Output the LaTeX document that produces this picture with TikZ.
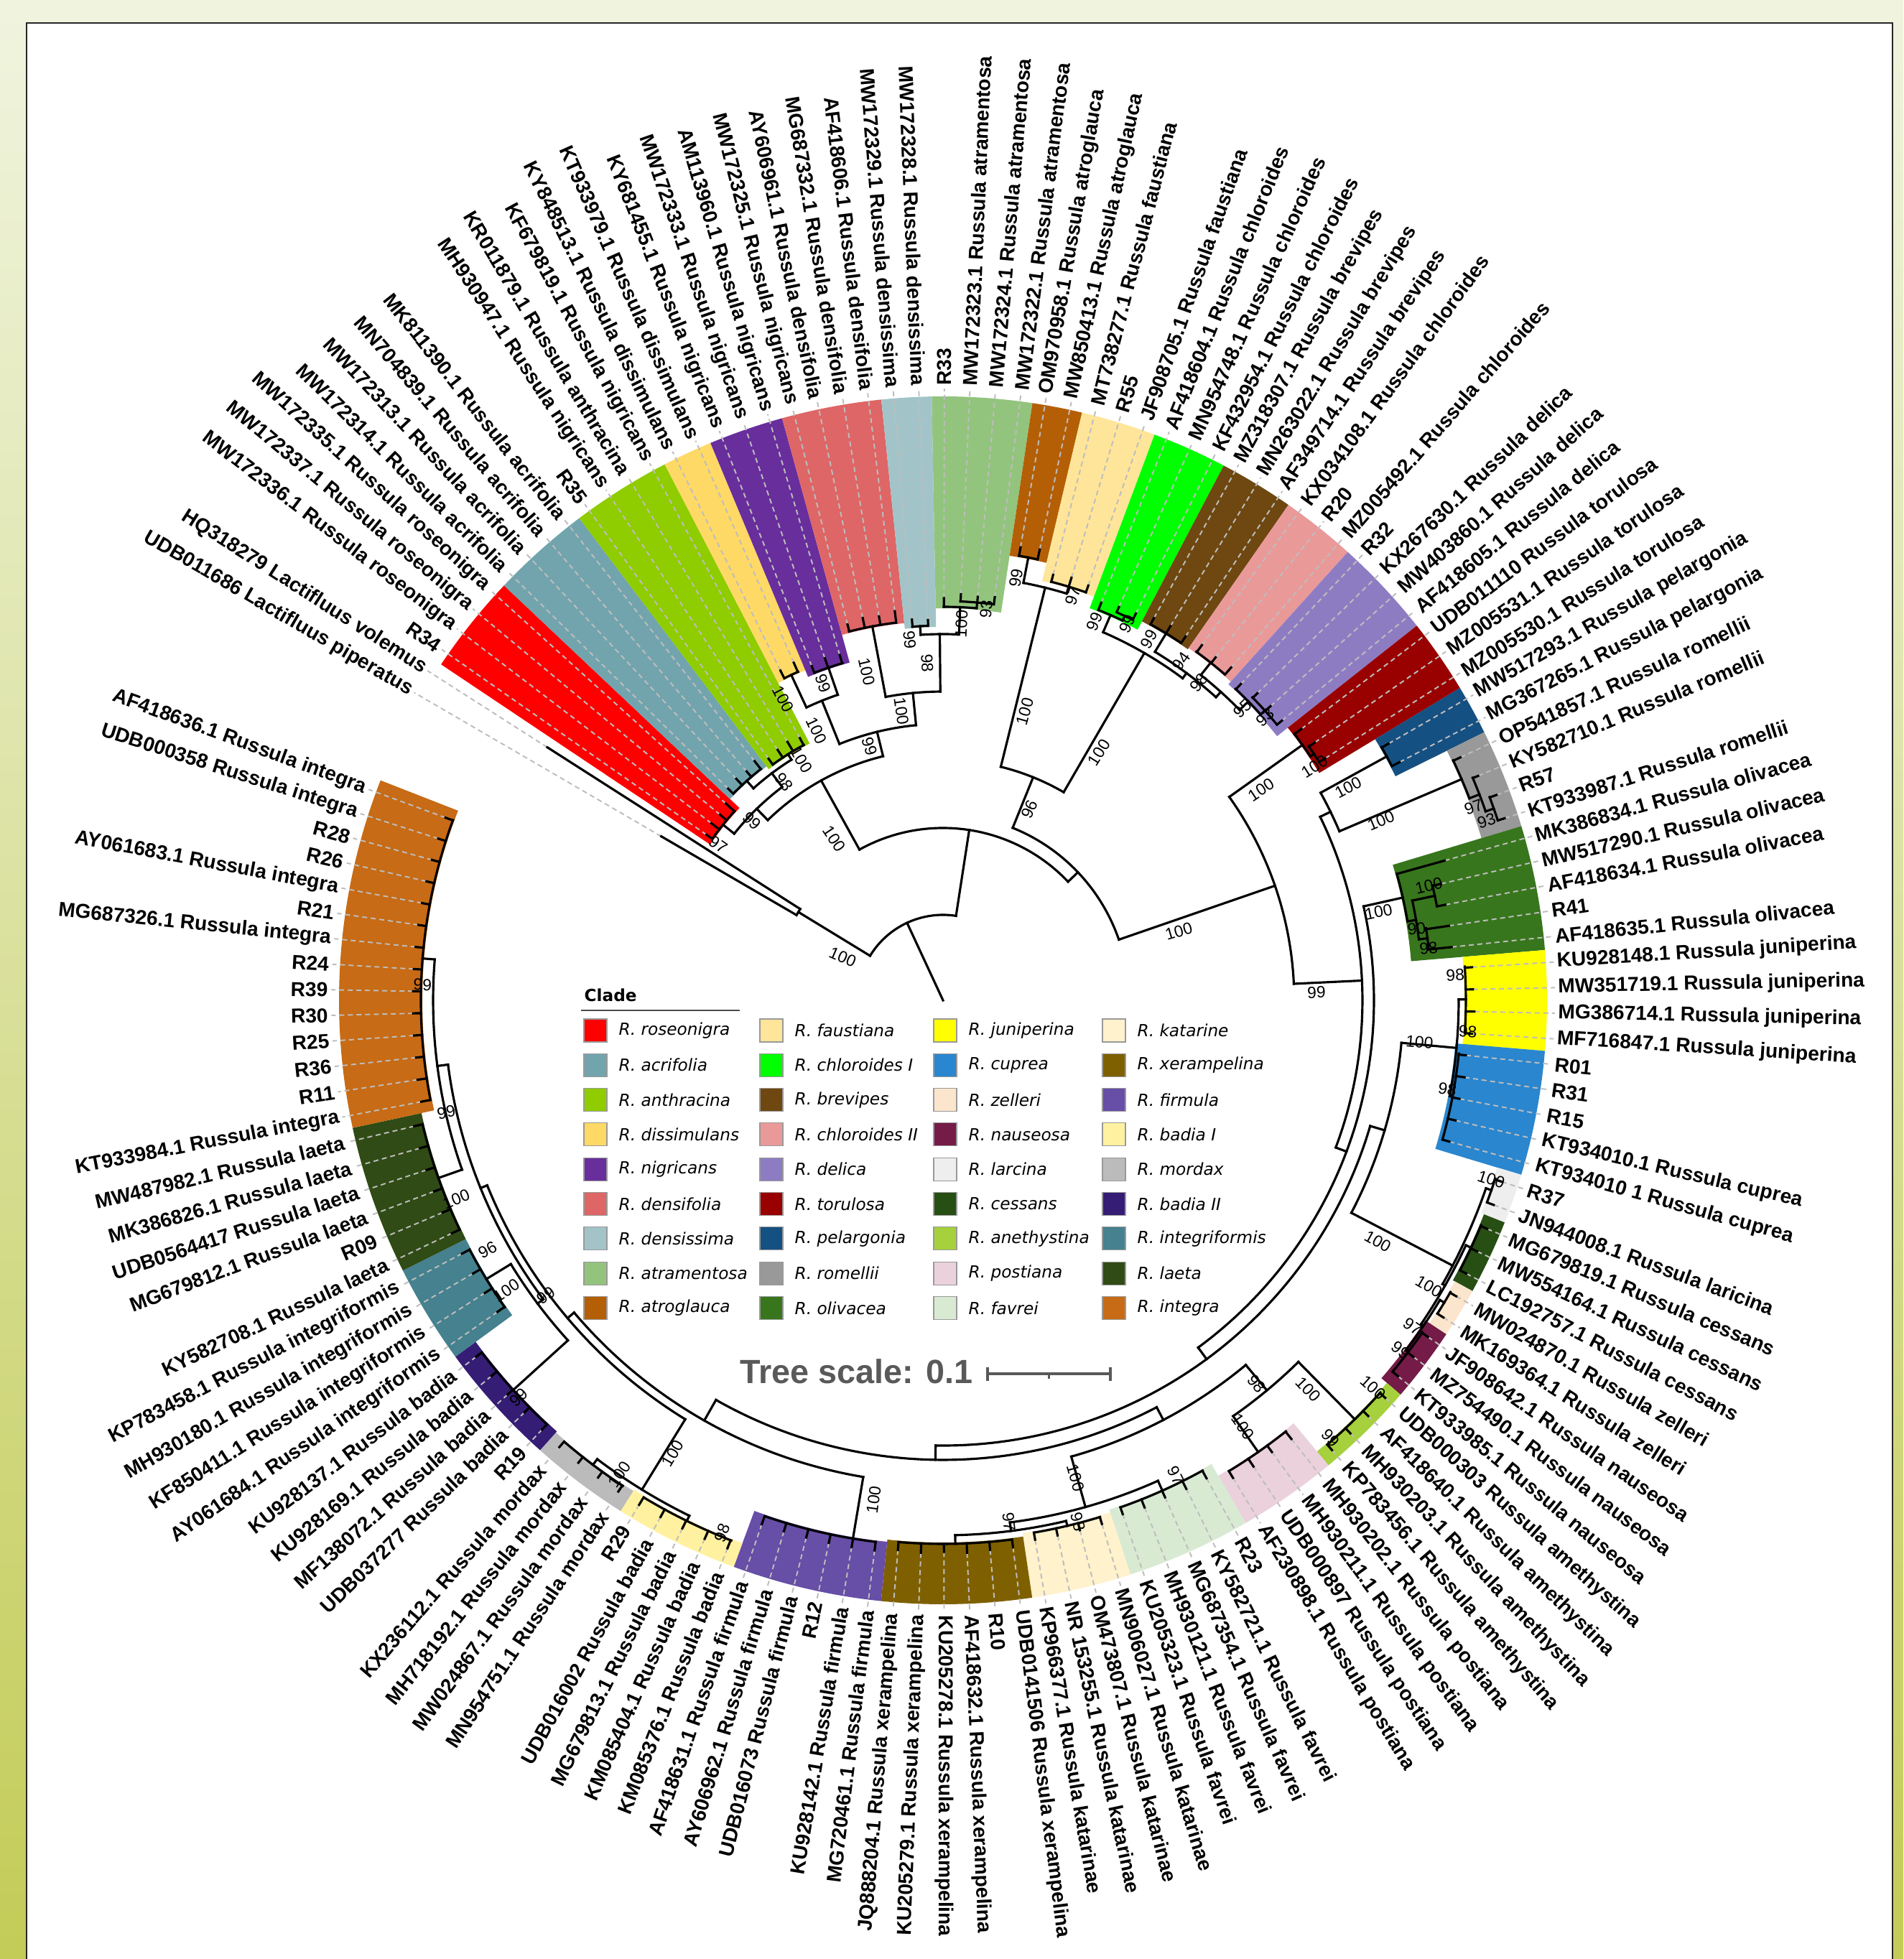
\documentclass[tikz,border=0pt]{standalone}
\usepackage{fontspec}
\usetikzlibrary{calc}
\setmainfont{Liberation Sans}
\newfontfamily\legfont{DejaVu Sans}
\definecolor{bgTop}{HTML}{F0F4DF}
\definecolor{bgBot}{HTML}{C3CC57}
\definecolor{dashc}{HTML}{BDBDBD}
\definecolor{scalec}{HTML}{595959}
\definecolor{cRos}{HTML}{FF0000}
\definecolor{cAcr}{HTML}{72A4AE}
\definecolor{cAnt}{HTML}{8FCC00}
\definecolor{cDis}{HTML}{FFD966}
\definecolor{cNig}{HTML}{682E9C}
\definecolor{cDfo}{HTML}{DE6666}
\definecolor{cDsi}{HTML}{A2C4C9}
\definecolor{cAtr}{HTML}{93C47D}
\definecolor{cAtg}{HTML}{B45F06}
\definecolor{cFau}{HTML}{FFE599}
\definecolor{cChI}{HTML}{00FF00}
\definecolor{cBre}{HTML}{6E4810}
\definecolor{cChII}{HTML}{EA9999}
\definecolor{cDel}{HTML}{8E7CC3}
\definecolor{cTor}{HTML}{990000}
\definecolor{cPel}{HTML}{155082}
\definecolor{cRom}{HTML}{999999}
\definecolor{cOli}{HTML}{38761D}
\definecolor{cJun}{HTML}{FFFF00}
\definecolor{cCup}{HTML}{2A86CE}
\definecolor{cZel}{HTML}{FCE5CD}
\definecolor{cNau}{HTML}{741B47}
\definecolor{cLar}{HTML}{EEEEEE}
\definecolor{cCes}{HTML}{274E13}
\definecolor{cAne}{HTML}{A6D03C}
\definecolor{cPos}{HTML}{EAD1DC}
\definecolor{cFav}{HTML}{D9EAD3}
\definecolor{cKat}{HTML}{FFF2CC}
\definecolor{cXer}{HTML}{7F6000}
\definecolor{cFir}{HTML}{674EA7}
\definecolor{cBI}{HTML}{FFF1A0}
\definecolor{cMor}{HTML}{BBBBBB}
\definecolor{cBII}{HTML}{351C75}
\definecolor{cIgf}{HTML}{45818E}
\definecolor{cLae}{HTML}{304B15}
\definecolor{cInt}{HTML}{C76B16}
\newcommand\TRad[3]{\draw[br] (#1:#2) -- (#1:#3);}
\newcommand\TArc[3]{\draw[br] (#2:#1) arc[start angle=#2,end angle=#3,radius=#1];}
\newcommand\Band[4]{%
  \pgfmathsetmacro\bsa{149.8-(#1-1)*2.397+1.1985}%
  \pgfmathsetmacro\bea{149.8-(#2-1)*2.397-1.1985}%
  \fill[#4] (\bsa:#3) arc[start angle=\bsa,end angle=\bea,radius=#3] -- (\bea:8.41) arc[start angle=\bea,end angle=\bsa,radius=8.41] -- cycle;}
\newcommand\BS[3]{%
  \pgfmathsetmacro\bsrot{cos(#1)>=0 ? #1 : #1+180}%
  \node[bs,rotate=\bsrot] at (#1:#2) {#3};}
\begin{document}
\begin{tikzpicture}[
  br/.style={line width=0.9pt, line cap=rect},
  dl/.style={line width=0.55pt, dash pattern=on 0.07cm off 0.05cm, color=dashc},
  lab/.style={font=\fontsize{8}{9}\selectfont\bfseries, inner sep=0pt},
  bs/.style={font=\fontsize{6.5}{7.5}\selectfont, inner sep=0pt},
  leg/.style={font=\legfont\itshape\fontsize{6.6}{7.8}\selectfont, anchor=west, inner sep=0pt},
  sw/.style={draw=black!40, line width=0.3pt}
]
\useasboundingbox (-13.13,-13.35) rectangle (13.37,13.93);
\shade[top color=bgTop, bottom color=bgBot] (-13.13,-13.35) rectangle (13.37,13.93);
\draw[fill=white, draw=black!85, line width=0.6pt] (-12.76,-13.6) rectangle (13.22,13.61);

% clade bands
\Band{3}{6}{3.90}{cRos}
\Band{7}{10}{4.08}{cAcr}
\Band{11}{14}{4.03}{cAnt}
\Band{15}{16}{4.98}{cDis}
\Band{17}{19}{4.88}{cNig}
\Band{20}{23}{5.28}{cDfo}
\Band{24}{25}{5.20}{cDsi}
\Band{26}{29}{5.46}{cAtr}
\Band{30}{31}{6.26}{cAtg}
\Band{32}{34}{6.00}{cFau}
\Band{35}{37}{5.83}{cChI}
\Band{38}{40}{5.96}{cBre}
\Band{41}{43}{5.98}{cChII}
\Band{44}{47}{5.93}{cDel}
\Band{48}{50}{6.12}{cTor}
\Band{51}{52}{7.03}{cPel}
\Band{53}{56}{7.83}{cRom}
\Band{57}{61}{6.54}{cOli}
\Band{62}{65}{7.26}{cJun}
\Band{66}{70}{7.16}{cCup}
\Band{71}{72}{8.06}{cLar}
\Band{73}{75}{8.10}{cCes}
\Band{76}{77}{8.13}{cZel}
\Band{78}{80}{8.06}{cNau}
\Band{81}{84}{8.16}{cAne}
\Band{85}{88}{7.65}{cPos}
\Band{89}{93}{7.46}{cFav}
\Band{94}{97}{7.50}{cKat}
\Band{98}{103}{7.55}{cXer}
\Band{104}{109}{7.58}{cFir}
\Band{110}{114}{8.06}{cBI}
\Band{115}{118}{8.08}{cMor}
\Band{119}{123}{8.06}{cBII}
\Band{124}{127}{7.43}{cIgf}
\Band{128}{133}{7.43}{cLae}
\Band{134}{147}{7.25}{cInt}

% leaves
\foreach \ix/\pa/\tp/\lbl in {
1/2.36/4.54/UDB011686 Lactifluus piperatus,
2/2.36/6.54/HQ318279 Lactifluus volemus,
3/3.92/4.02/R34,
4/3.92/4.06/MW172336.1 Russula roseonigra,
5/3.92/4.04/MW172337.1 Russula roseonigra,
6/3.92/4.08/MW172335.1 Russula roseonigra,
7/4.10/4.20/MW172314.1 Russula acrifolia,
8/4.10/4.22/MW172313.1 Russula acrifolia,
9/4.10/4.20/MN704839.1 Russula acrifolia,
10/4.10/4.24/MK811390.1 Russula acrifolia,
11/4.05/4.15/R35,
12/4.05/4.18/MH930947.1 Russula nigricans,
13/4.05/4.20/KR011879.1 Russula anthracina,
14/4.05/4.16/KF679819.1 Russula nigricans,
15/5.00/5.12/KY848513.1 Russula dissimulans,
16/5.00/5.14/KT933979.1 Russula dissimulans,
17/4.90/5.00/KY681455.1 Russula nigricans,
18/4.90/5.04/MW172333.1 Russula nigricans,
19/4.90/5.02/AM113960.1 Russula nigricans,
20/5.30/5.40/MW172325.1 Russula nigricans,
21/5.30/5.44/AY606961.1 Russula densifolia,
22/5.30/5.42/MG687332.1 Russula densifolia,
23/5.30/5.46/AF418606.1 Russula densifolia,
24/5.22/5.32/MW172329.1 Russula densissima,
25/5.22/5.30/MW172328.1 Russula densissima,
26/5.48/5.60/R33,
27/5.56/5.66/MW172323.1 Russula atramentosa,
28/5.56/5.64/MW172324.1 Russula atramentosa,
29/5.56/5.66/MW172322.1 Russula atramentosa,
30/6.28/6.40/OM970958.1 Russula atroglauca,
31/6.28/6.42/MW850413.1 Russula atroglauca,
32/6.02/6.12/MT738277.1 Russula faustiana,
33/6.02/6.15/R55,
34/6.02/6.12/JF908705.1 Russula faustiana,
35/5.85/5.96/AF418604.1 Russula chloroides,
36/5.92/6.00/MN954748.1 Russula chloroides,
37/5.92/6.02/KF432954.1 Russula chloroides,
38/5.98/6.08/MZ318307.1 Russula brevipes,
39/5.98/6.10/MN263022.1 Russula brevipes,
40/5.98/6.09/AF349714.1 Russula brevipes,
41/6.00/6.12/KX034108.1 Russula chloroides,
42/6.00/6.10/R20,
43/6.00/6.13/MZ005492.1 Russula chloroides,
44/5.95/6.05/R32,
45/6.03/6.12/KX267630.1 Russula delica,
46/6.03/6.13/MW403860.1 Russula delica,
47/6.03/6.12/AF418605.1 Russula delica,
48/6.14/6.26/UDB011110 Russula torulosa,
49/6.20/6.30/MZ005531.1 Russula torulosa,
50/6.20/6.30/MZ005530.1 Russula torulosa,
51/7.05/7.16/MW517293.1 Russula pelargonia,
52/7.05/7.17/MG367265.1 Russula pelargonia,
53/7.85/7.96/OP541857.1 Russula romellii,
54/8.00/8.08/KY582710.1 Russula romellii,
55/8.12/8.22/R57,
56/8.12/8.22/KT933987.1 Russula romellii,
57/6.56/7.25/MK386834.1 Russula olivacea,
58/7.00/7.12/MW517290.1 Russula olivacea,
59/7.00/7.12/AF418634.1 Russula olivacea,
60/6.80/7.12/R41,
61/6.80/7.12/AF418635.1 Russula olivacea,
62/7.28/7.38/KU928148.1 Russula juniperina,
63/7.28/7.38/MW351719.1 Russula juniperina,
64/7.28/7.40/MG386714.1 Russula juniperina,
65/7.28/7.38/MF716847.1 Russula juniperina,
66/7.22/7.32/R01,
67/7.22/7.34/R31,
68/7.22/7.32/R15,
69/7.22/7.33/KT934010.1 Russula cuprea,
70/7.22/7.32/KT934010 1 Russula cuprea,
71/8.08/8.18/R37,
72/8.08/8.18/JN944008.1 Russula laricina,
73/8.12/8.22/MG679819.1 Russula cessans,
74/8.12/8.22/MW554164.1 Russula cessans,
75/8.12/8.22/LC192757.1 Russula cessans,
76/8.15/8.25/MW024870.1 Russula zelleri,
77/8.15/8.25/MK169364.1 Russula zelleri,
78/8.12/8.22/JF908642.1 Russula nauseosa,
79/8.12/8.22/MZ754490.1 Russula nauseosa,
80/8.12/8.22/KT933985.1 Russula nauseosa,
81/8.18/8.28/UDB000303 Russula amethystina,
82/8.18/8.28/AF418640.1 Russula amethystina,
83/8.18/8.28/MH930203.1 Russula amethystina,
84/8.18/8.28/KP783456.1 Russula amethystina,
85/7.67/7.80/MH930202.1 Russula postiana,
86/7.67/7.78/MH930211.1 Russula postiana,
87/7.67/7.80/UDB000897 Russula postiana,
88/7.67/7.78/AF230898.1 Russula postiana,
89/7.48/7.60/R23,
90/7.48/7.60/KY582721.1 Russula favrei,
91/7.48/7.58/MG687354.1 Russula favrei,
92/7.48/7.60/MH930121.1 Russula favrei,
93/7.48/7.58/KU205323.1 Russula favrei,
94/7.52/7.62/MN906027.1 Russula katarinae,
95/7.52/7.62/OM473807.1 Russula katarinae,
96/7.52/7.62/NR 153255.1 Russula katarinae,
97/7.52/7.62/KP966377.1 Russula katarinae,
98/7.57/7.68/UDB0141506 Russula xerampelina,
99/7.57/7.68/R10,
100/7.57/7.70/AF418632.1 Russula xerampelina,
101/7.57/7.68/KU205278.1 Russula xerampelina,
102/7.57/7.70/KU205279.1 Russula xerampelina,
103/7.57/7.68/JQ888204.1 Russula xerampelina,
104/7.60/7.72/MG720461.1 Russula firmula,
105/7.60/7.72/KU928142.1 Russula firmula,
106/7.60/7.72/R12,
107/7.60/7.72/UDB016073 Russula firmula,
108/7.60/7.72/AY606962.1 Russula firmula,
109/7.60/7.72/AF418631.1 Russula firmula,
110/8.08/8.20/KM085376.1 Russula badia,
111/8.08/8.20/KM085404.1 Russula badia,
112/8.08/8.20/MG679813.1 Russula badia,
113/8.08/8.20/UDB016002 Russula badia,
114/8.08/8.20/R29,
115/8.10/8.20/MN954751.1 Russula mordax,
116/8.10/8.20/MW024867.1 Russula mordax,
117/8.10/8.20/MH718192.1 Russula mordax,
118/8.10/8.20/KX236112.1 Russula mordax,
119/8.08/8.18/R19,
120/8.08/8.18/UDB037277 Russula badia,
121/8.08/8.18/MF138072.1 Russula badia,
122/8.08/8.18/KU928169.1 Russula badia,
123/8.08/8.18/KU928137.1 Russula badia,
124/7.45/7.57/AY061684.1 Russula integriformis,
125/7.45/7.57/KF850411.1 Russula integriformis,
126/7.45/7.57/MH930180.1 Russula integriformis,
127/7.45/7.57/KP783458.1 Russula integriformis,
128/7.45/7.57/KY582708.1 Russula laeta,
129/7.45/7.57/R09,
130/7.45/7.57/MG679812.1 Russula laeta,
131/7.45/7.57/UDB0564417 Russula laeta,
132/7.45/7.57/MK386826.1 Russula laeta,
133/7.45/7.57/MW487982.1 Russula laeta,
134/7.27/7.40/KT933984.1 Russula integra,
135/7.27/7.40/R11,
136/7.27/7.38/R36,
137/7.27/7.38/R25,
138/7.27/7.38/R30,
139/7.27/7.38/R39,
140/7.27/7.38/R24,
141/7.27/7.38/MG687326.1 Russula integra,
142/7.27/7.38/R21,
143/7.27/7.38/AY061683.1 Russula integra,
144/7.27/7.38/R26,
145/7.27/7.38/R28,
146/7.27/7.38/UDB000358 Russula integra,
147/7.27/7.38/AF418636.1 Russula integra}{
  \pgfmathsetmacro\ang{149.8-(\ix-1)*2.397}
  \draw[dl] (\ang:\tp) -- (\ang:8.52);
  \draw[br] (\ang:\pa) -- (\ang:\tp);
  \pgfmathtruncatemacro\rgt{cos(\ang)>=0}
  \ifnum\rgt=1
    \node[lab,anchor=west,rotate=\ang] (L\ix) at (\ang:8.56) {\lbl};
  \else
    \pgfmathsetmacro\rr{\ang+180}
    \node[lab,anchor=east,rotate=\rr] (L\ix) at (\ang:8.56) {\lbl};
  \fi
}

% root and outgroup
\TRad{114.9}{0}{1.19}
\TArc{1.19}{148.6}{81.25}
\TRad{148.6}{1.19}{2.36}
\TArc{2.36}{149.8}{147.4}
\TRad{81.25}{1.19}{2.40}
\TArc{2.40}{119.0}{43.5}
% clade A
\TRad{119.0}{2.40}{3.50}
\TArc{3.50}{134.2}{103.8}
\TRad{134.2}{3.50}{3.72}
\TArc{3.72}{141.4}{127.0}
\TRad{141.4}{3.72}{3.92}
\TArc{3.92}{145.0}{137.8}
\TRad{127.0}{3.72}{3.96}
\TArc{3.96}{131.8}{122.2}
\TRad{131.8}{3.96}{4.10}
\TArc{4.10}{135.4}{128.2}
\TRad{122.2}{3.96}{4.05}
\TArc{4.05}{125.8}{118.6}
\TRad{103.8}{3.50}{3.85}
\TArc{3.85}{112.0}{95.6}
\TRad{112.0}{3.85}{4.50}
\TArc{4.50}{115.0}{109.0}
\TRad{115.0}{4.50}{5.00}
\TArc{5.00}{116.2}{113.8}
\TRad{109.0}{4.50}{4.90}
\TArc{4.90}{111.4}{106.6}
\TRad{95.6}{3.85}{4.30}
\TArc{4.30}{100.7}{90.5}
\TRad{100.7}{4.30}{5.30}
\TArc{5.30}{104.3}{97.1}
\TRad{90.5}{4.30}{5.10}
\TArc{5.10}{93.5}{87.5}
\TRad{93.5}{5.10}{5.22}
\TArc{5.22}{94.7}{92.3}
\TRad{87.5}{5.10}{5.48}
\TArc{5.48}{89.9}{85.1}
\TRad{85.1}{5.48}{5.56}
\TArc{5.56}{87.5}{82.7}
% clade B
\TRad{43.5}{2.40}{2.59}
\TArc{2.59}{68.0}{19.05}
\TRad{68.0}{2.59}{3.35}
\TArc{3.35}{76.1}{59.9}
\TRad{76.1}{3.35}{5.92}
\TArc{5.92}{79.1}{73.1}
\TRad{79.1}{5.92}{6.28}
\TArc{6.28}{80.3}{77.9}
\TRad{73.1}{5.92}{6.02}
\TArc{6.02}{75.5}{70.7}
\TRad{59.9}{3.35}{5.59}
\TArc{5.59}{66.5}{53.35}
\TRad{66.5}{5.59}{5.85}
\TArc{5.85}{68.3}{64.7}
\TRad{64.7}{5.85}{5.92}
\TArc{5.92}{65.9}{63.5}
\TRad{53.35}{5.59}{5.68}
\TArc{5.68}{58.7}{48.0}
\TRad{58.7}{5.68}{5.98}
\TArc{5.98}{61.1}{56.4}
\TRad{48.0}{5.68}{5.78}
\TArc{5.78}{51.6}{44.4}
\TRad{51.6}{5.78}{6.00}
\TArc{6.00}{54.0}{49.2}
\TRad{44.4}{5.78}{5.95}
\TArc{5.95}{46.8}{42.0}
\TRad{42.0}{5.95}{6.03}
\TArc{6.03}{44.4}{39.6}
% clade C
\TRad{19.05}{2.59}{4.89}
\TArc{4.89}{35.4}{2.7}
\TRad{35.4}{4.89}{6.14}
\TArc{6.14}{37.2}{33.6}
\TRad{33.6}{6.14}{6.20}
\TArc{6.20}{34.8}{32.4}
\TRad{2.7}{4.89}{5.84}
\TArc{5.84}{25.95}{-20.55}
\TRad{25.95}{5.84}{6.00}
\TArc{6.00}{28.8}{23.1}
\TRad{28.8}{6.00}{7.05}
\TArc{7.05}{30.0}{27.6}
\TRad{23.1}{6.00}{7.85}
\TArc{7.85}{25.2}{21.0}
\TRad{21.0}{7.85}{8.00}
\TArc{8.00}{22.8}{19.2}
\TRad{19.2}{8.00}{8.12}
\TArc{8.12}{20.4}{18.0}
\TRad{-20.55}{5.84}{6.00}
\TArc{6.00}{12.6}{-53.7}
\TRad{12.6}{6.00}{6.56}
\TArc{6.56}{15.6}{9.65}
\TRad{9.65}{6.56}{6.68}
\TArc{6.68}{12.0}{7.3}
\TRad{12.0}{6.68}{7.00}
\TArc{7.00}{13.2}{10.8}
\TRad{7.3}{6.68}{6.80}
\TArc{6.80}{8.5}{6.1}
\TRad{-53.7}{6.00}{6.20}
\TArc{6.20}{-16.4}{-90.95}
\TRad{-16.4}{6.20}{6.41}
\TArc{6.41}{-5.3}{-27.5}
\TRad{-5.3}{6.41}{7.18}
\TArc{7.18}{0.1}{-10.7}
\TRad{0.1}{7.18}{7.28}
\TArc{7.28}{3.7}{-3.5}
\TRad{-10.7}{7.18}{7.22}
\TArc{7.22}{-5.9}{-15.5}
\TRad{-27.5}{6.41}{8.00}
\TArc{8.00}{-19.1}{-29.6}
\TRad{-19.1}{8.00}{8.08}
\TArc{8.08}{-17.9}{-20.3}
\TRad{-29.6}{8.00}{8.04}
\TArc{8.04}{-25.1}{-34.1}
\TRad{-25.1}{8.04}{8.12}
\TArc{8.12}{-22.7}{-27.5}
\TRad{-34.1}{8.04}{8.08}
\TArc{8.08}{-31.1}{-37.1}
\TRad{-31.1}{8.08}{8.15}
\TArc{8.15}{-29.9}{-32.3}
\TRad{-37.1}{8.08}{8.12}
\TArc{8.12}{-34.7}{-39.5}
\TRad{-90.95}{6.20}{6.40}
\TArc{6.40}{-62.3}{-119.6}
\TRad{-62.3}{6.40}{6.60}
\TArc{6.60}{-50.3}{-74.3}
\TRad{-50.3}{6.60}{7.06}
\TArc{7.06}{-45.5}{-55.1}
\TRad{-45.5}{7.06}{8.18}
\TArc{8.18}{-41.9}{-49.1}
\TRad{-55.1}{7.06}{7.67}
\TArc{7.67}{-51.5}{-58.7}
\TRad{-74.3}{6.60}{7.33}
\TArc{7.33}{-65.9}{-82.7}
\TRad{-65.9}{7.33}{7.48}
\TArc{7.48}{-61.1}{-70.7}
\TRad{-82.7}{7.33}{7.45}
\TArc{7.45}{-76.7}{-88.7}
\TRad{-76.7}{7.45}{7.52}
\TArc{7.52}{-73.1}{-80.3}
\TRad{-88.7}{7.45}{7.57}
\TArc{7.57}{-82.7}{-94.7}
\TRad{-119.6}{6.40}{6.73}
\TArc{6.73}{-99.5}{-139.75}
\TRad{-99.5}{6.73}{7.60}
\TArc{7.60}{-97.1}{-109.0}
\TRad{-139.75}{6.73}{6.85}
\TArc{6.85}{-121.6}{-157.9}
\TRad{-121.6}{6.85}{8.00}
\TArc{8.00}{-116.2}{-127.0}
\TRad{-116.2}{8.00}{8.08}
\TArc{8.08}{-111.4}{-121.0}
\TRad{-127.0}{8.00}{8.10}
\TArc{8.10}{-123.4}{-130.6}
\TRad{-157.9}{6.85}{6.95}
\TArc{6.95}{-143.2}{-172.6}
\TRad{-143.2}{6.95}{7.05}
\TArc{7.05}{-137.8}{-148.6}
\TRad{-137.8}{7.05}{8.08}
\TArc{8.08}{-133.0}{-142.6}
\TRad{-148.6}{7.05}{7.45}
\TArc{7.45}{-145.0}{-152.2}
\TRad{-172.6}{6.95}{7.10}
\TArc{7.10}{-160.6}{-184.6}
\TRad{-160.6}{7.10}{7.45}
\TArc{7.45}{-154.6}{-166.6}
\TRad{-184.6}{7.10}{7.27}
\TArc{7.27}{-169.0}{-200.2}

% bootstrap values
\foreach \ba/\brr/\bt in {156.8/1.52/100, 123.9/2.71/100, 145.3/3.81/97, 136.8/3.65/99, 126.1/3.76/98,
 120.5/3.89/100, 117.9/4.75/100, 110.7/4.72/99, 115.1/4.15/100, 106.1/3.68/99, 103.1/4.70/100,
 98.2/4.07/100, 95.3/5.04/99, 92.7/4.70/98, 87.2/5.25/100, 83.7/5.48/93, 80.2/5.97/99, 72.2/5.91/97,
 74.2/4.18/100, 65.6/2.92/96, 57.8/4.08/100, 68.2/5.68/99, 63.9/5.84/99, 60.3/5.79/99, 54.9/5.77/94,
 51.1/5.68/98, 44.2/5.82/95, 41.3/5.97/93, 16.3/3.42/100, 33.5/5.31/100, 32.2/6.11/100, 1.2/5.20/99,
 27.7/6.37/100, 22.3/6.59/100, 20.0/7.86/97, 18.3/7.97/93, 11.5/6.19/100, 13.3/6.95/100, 8.6/6.67/90,
 6.1/6.80/98, 2.8/7.14/98, -3.4/7.32/98, -5.0/6.66/100, -10.0/7.13/98, -29.0/6.92/100, -18.1/8.03/100,
 -30.5/7.85/100, -34.8/7.96/97, -37.4/8.02/99, -42.0/8.06/100, -48.5/8.14/99, -50.7/6.90/98,
 -46.8/7.43/100, -54.9/7.26/100, -74.5/6.90/100, -63.9/7.37/97, -82.8/7.32/97, -75.5/7.50/98,
 -97.9/7.02/100, -120.8/7.35/100, -112.5/8.03/98, -124.3/7.99/100, -136.9/8.09/99, -143.4/6.89/99,
 -146.4/7.30/100, -151.3/7.23/96, -157.8/7.32/100, -167.3/7.09/99, 178.3/7.25/99}{
  \BS{\ba}{\brr}{\bt}
}

% legend
\node[font=\legfont\bfseries\fontsize{6.6}{7.8}\selectfont, anchor=west, inner sep=0pt] (cladehead) at (-5.00,0.07) {Clade};
\draw[line width=0.4pt, black!70] (-5.04,-0.14) -- (-2.83,-0.14);
\foreach \cl/\nm [count=\k from 0] in {cRos/R. roseonigra, cAcr/R. acrifolia, cAnt/R. anthracina, cDis/R. dissimulans, cNig/R. nigricans, cDfo/R. densifolia, cDsi/R. densissima, cAtr/R. atramentosa, cAtg/R. atroglauca}{
  \filldraw[sw, fill=\cl] (-5.00,{-0.42-0.483*\k-0.16}) rectangle (-4.68,{-0.42-0.483*\k+0.16});
  \node[leg] (lga\k) at (-4.52,{-0.42-0.483*\k}) {\nm};
}
\foreach \cl/\nm [count=\k from 0] in {cFau/R. faustiana, cChI/R. chloroides I, cBre/R. brevipes, cChII/R. chloroides II, cDel/R. delica, cTor/R. torulosa, cPel/R. pelargonia, cRom/R. romellii, cOli/R. olivacea}{
  \filldraw[sw, fill=\cl] (-2.55,{-0.42-0.483*\k-0.16}) rectangle (-2.23,{-0.42-0.483*\k+0.16});
  \node[leg] (lgb\k) at (-2.07,{-0.42-0.483*\k}) {\nm};
}
\foreach \cl/\nm [count=\k from 0] in {cJun/R. juniperina, cCup/R. cuprea, cZel/R. zelleri, cNau/R. nauseosa, cLar/R. larcina, cCes/R. cessans, cAne/R. anethystina, cPos/R. postiana, cFav/R. favrei}{
  \filldraw[sw, fill=\cl] (-0.13,{-0.42-0.483*\k-0.16}) rectangle (0.19,{-0.42-0.483*\k+0.16});
  \node[leg] (lgc\k) at (0.35,{-0.42-0.483*\k}) {\nm};
}
\foreach \cl/\nm [count=\k from 0] in {cKat/R. katarine, cXer/R. xerampelina, cFir/R. firmula, cBI/R. badia I, cMor/R. mordax, cBII/R. badia II, cIgf/R. integriformis, cLae/R. laeta, cInt/R. integra}{
  \filldraw[sw, fill=\cl] (2.22,{-0.42-0.483*\k-0.16}) rectangle (2.54,{-0.42-0.483*\k+0.16});
  \node[leg] (lgd\k) at (2.70,{-0.42-0.483*\k}) {\nm};
}

% tree scale
\node[anchor=west, inner sep=0pt, font=\fontsize{13.3}{15}\selectfont\bfseries, text=scalec] (tscale) at (-2.83,-5.17) {Tree scale: 0.1};
\coordinate (sbL) at (0.62,-5.20);
\coordinate (sbR) at (2.33,-5.20);
\coordinate (sbM) at (1.475,-5.20);
\draw[line width=1.1pt, scalec] (sbL) -- (sbR);
\draw[line width=1.1pt, scalec] ($(sbL)+(0,0.095)$) -- ($(sbL)+(0,-0.095)$);
\draw[line width=1.1pt, scalec] ($(sbR)+(0,0.095)$) -- ($(sbR)+(0,-0.095)$);
\draw[line width=0.8pt, scalec] (sbM) -- ($(sbM)+(0,-0.07)$);
\end{tikzpicture}
\end{document}
